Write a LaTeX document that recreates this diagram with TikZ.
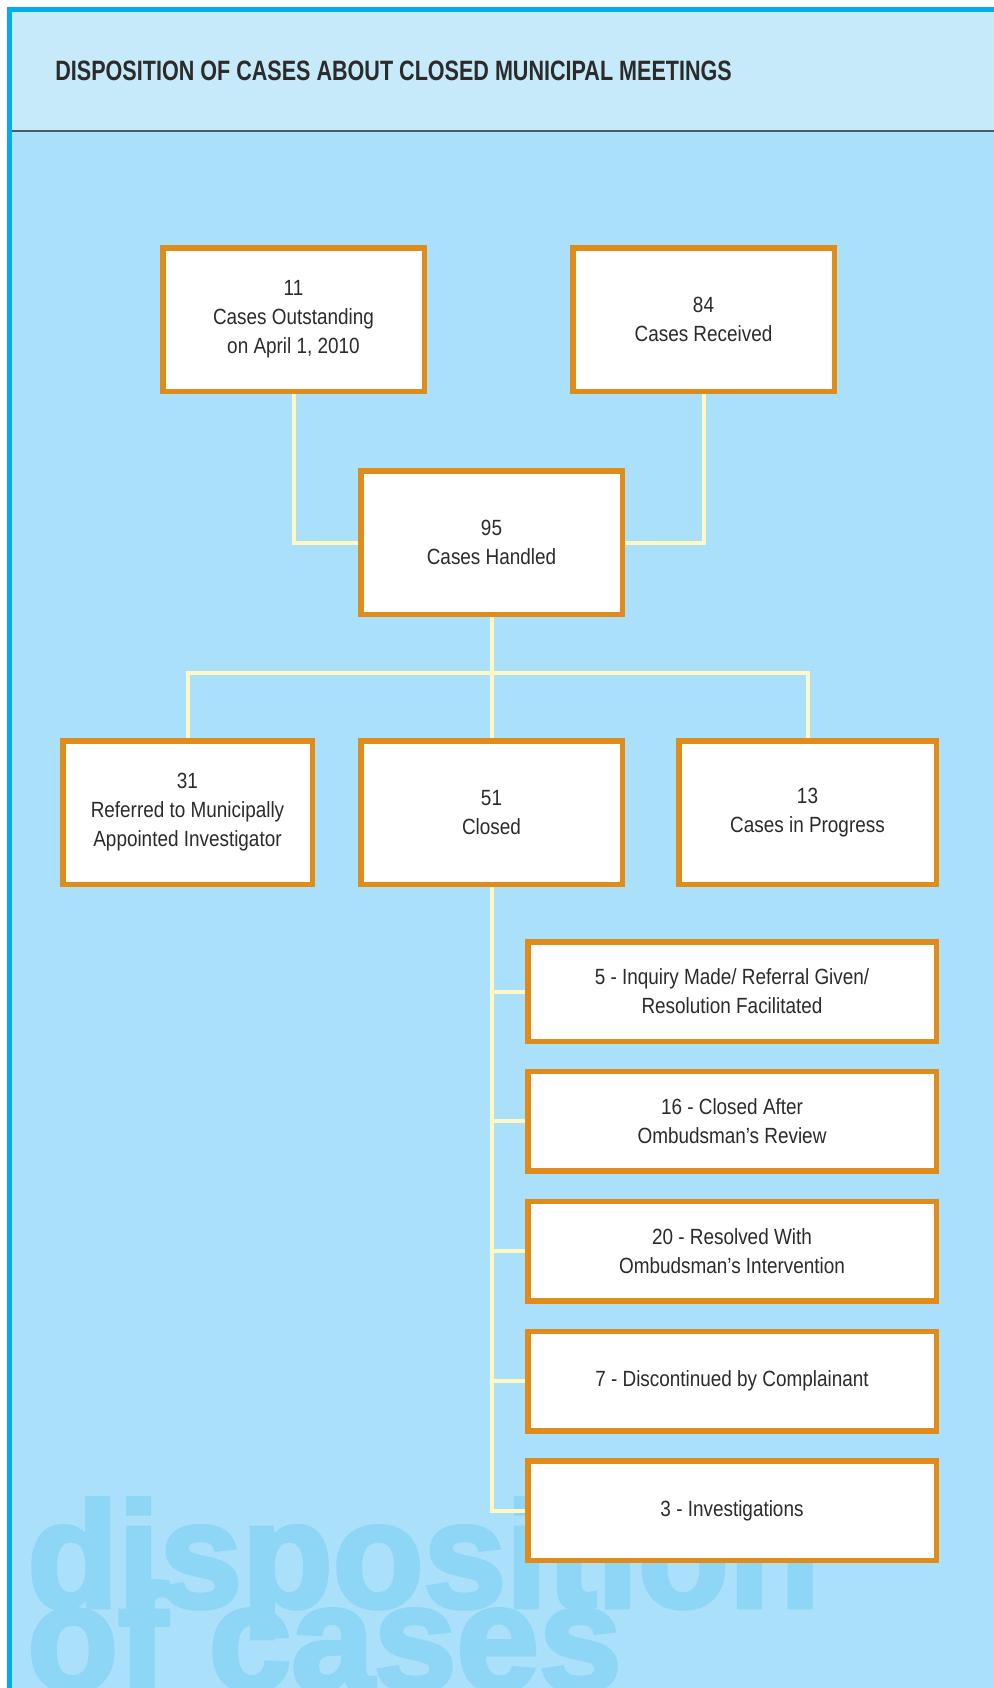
\documentclass[tikz,border=0pt]{standalone}
\usepackage{fontspec}
\setmainfont{Liberation Sans}
\newfontfamily\boxfont[FakeStretch=0.86]{Liberation Sans}
\newfontfamily\titlefont[FakeStretch=0.77]{Liberation Sans}
\newfontfamily\wmfont[FakeStretch=0.99, BoldFeatures={FakeBold=3}]{Liberation Sans}
\definecolor{frameblue}{HTML}{00AEEF}
\definecolor{headfill}{HTML}{C6EAF9}
\definecolor{mainfill}{HTML}{ABE0FA}
\definecolor{wmcol}{HTML}{8DD6F5}
\definecolor{orangeC}{HTML}{E08C1A}
\definecolor{connC}{HTML}{FFF8C4}
\definecolor{textC}{HTML}{2B2B2B}
\definecolor{ruleC}{HTML}{4E5B62}
\pgfdeclarelayer{bg}
\pgfdeclarelayer{conn}
\pgfsetlayers{bg,conn,main}
\tikzset{
  box/.style={draw=orangeC, line width=2.75pt, fill=white, inner sep=0pt, align=center,
    text=textC, font={\boxfont\fontsize{11}{14.5}\selectfont}},
  wbox/.style={box, minimum width=130.75pt, minimum height=71.75pt},
  subbox/.style={box, minimum width=204.25pt, minimum height=49.75pt},
  conn/.style={draw=connC, line width=2pt},
  wmtext/.style={inner sep=0pt, text=wmcol, anchor=base west, font={\wmfont\bfseries\fontsize{75}{40}\selectfont}}
}
\begin{document}
\begin{tikzpicture}[x=0.5pt,y=-0.5pt]
\useasboundingbox (0,0) rectangle (994,1688);
\begin{pgfonlayer}{bg}
\clip (0,0) rectangle (994,1688);
\fill[white] (0,0) rectangle (994,1688);
\fill[frameblue] (7,7) rectangle (994,1688);
\fill[headfill] (12,12) rectangle (994,130);
\fill[mainfill] (12,130) rectangle (994,1688);
\draw[ruleC, line width=1pt] (12,131) -- (994,131);
\node[anchor=base west, inner sep=0pt, text=textC, font={\titlefont\bfseries\fontsize{14}{16}\selectfont}] (title) at (55,80) {DISPOSITION OF CASES ABOUT CLOSED MUNICIPAL MEETINGS};
\node[wmtext] (wm1) at (27,1607) {disposition};
\node[wmtext] (wm2) at (27,1690) {of cases};
\end{pgfonlayer}

\node[wbox] (b11) at (293.5,319.5) {11\\Cases Outstanding\\on April 1, 2010};
\node[wbox] (b84) at (703.5,319.5) {84\\Cases Received};
\node[wbox] (b95) at (491.5,542.5) {95\\Cases Handled};
\node[box, minimum width=124.75pt, minimum height=71.75pt] (b31) at (187.5,812.5) {31\\Referred to Municipally\\Appointed Investigator};
\node[wbox] (b51) at (491.5,812.5) {51\\Closed};
\node[box, minimum width=128.75pt, minimum height=71.75pt] (b13) at (807.5,812.5) {13\\Cases in Progress};
\node[subbox] (s1) at (732,991.5) {5 - Inquiry Made/ Referral Given/\\Resolution Facilitated};
\node[subbox] (s2) at (732,1121) {16 - Closed After\\Ombudsman’s Review};
\node[subbox] (s3) at (732,1251) {20 - Resolved With\\Ombudsman’s Intervention};
\node[subbox] (s4) at (732,1381) {7 - Discontinued by Complainant};
\node[subbox] (s5) at (732,1510.5) {3 - Investigations};

\begin{pgfonlayer}{conn}
\coordinate (bus) at (491.5,673);
\draw[conn] (b11.south) |- (b95.west);
\draw[conn] (b84.south) |- (b95.east);
\draw[conn] (b95.south) -- (b51.north);
\draw[conn] (b31.north) |- (bus) -| (b13.north);
\draw[conn] (b51.south) |- (s5.west);
\draw[conn] (b51.south |- s1.west) -- (s1.west);
\draw[conn] (b51.south |- s2.west) -- (s2.west);
\draw[conn] (b51.south |- s3.west) -- (s3.west);
\draw[conn] (b51.south |- s4.west) -- (s4.west);
\end{pgfonlayer}
\end{tikzpicture}
\end{document}
